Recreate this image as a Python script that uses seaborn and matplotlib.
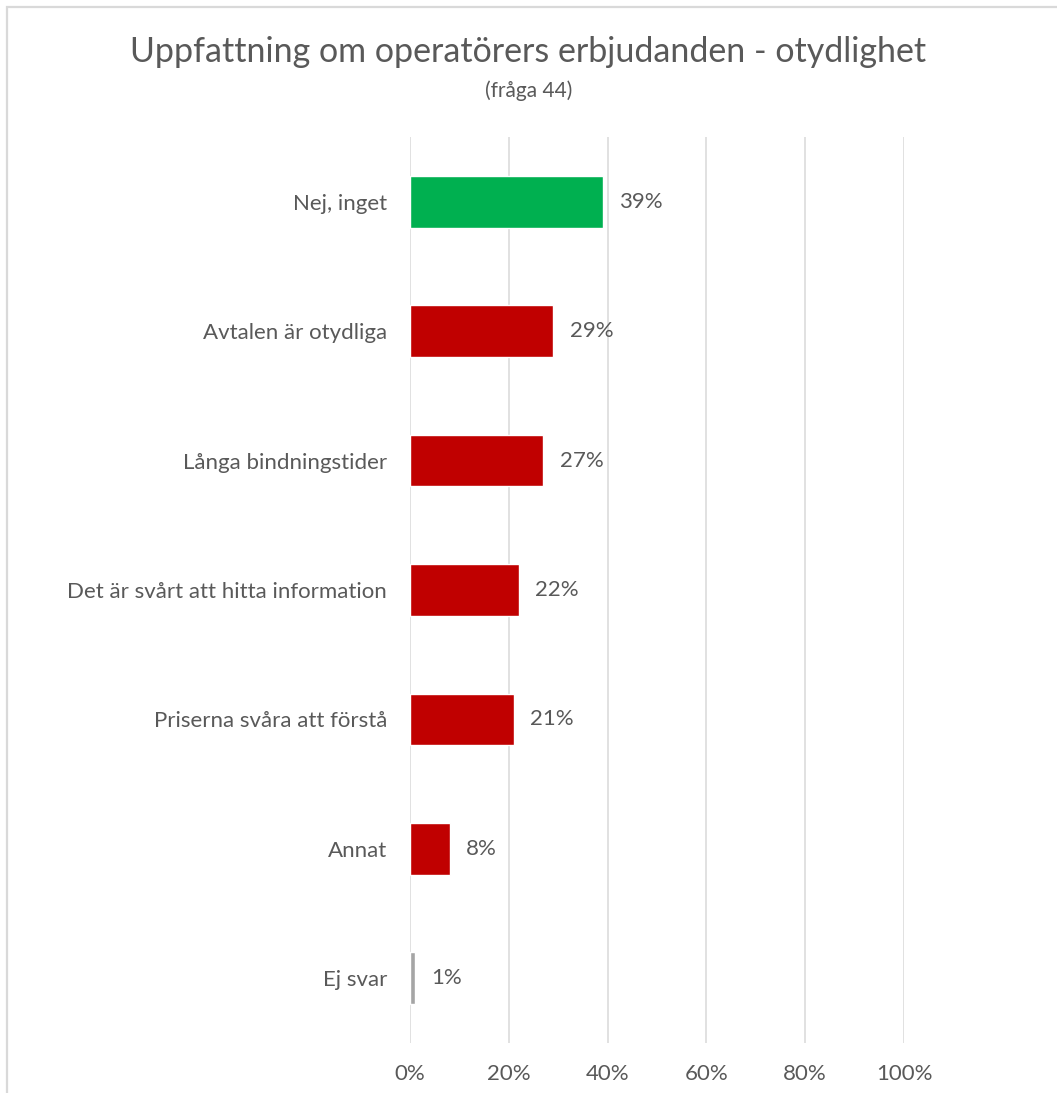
import matplotlib
matplotlib.use("Agg")
import matplotlib.pyplot as plt
import seaborn as sns
import pandas as pd
from matplotlib.patches import Rectangle

categories = [
    "Nej, inget",
    "Avtalen är otydliga",
    "Långa bindningstider",
    "Det är svårt att hitta information",
    "Priserna svåra att förstå",
    "Annat",
    "Ej svar",
]
values = [39, 29, 27, 22, 21, 8, 1]
bar_colors = ["#00B050", "#C00000", "#C00000", "#C00000", "#C00000", "#C00000", "#A5A5A5"]
x_ticks = [0, 20, 40, 60, 80, 100]

sns.set_theme(style="white")
plt.rcParams["font.family"] = ["Lato", "DejaVu Sans"]

text_color = "#595959"
grid_color = "#D9D9D9"

df = pd.DataFrame({"kategori": categories, "andel": values})

fig = plt.figure(figsize=(10.57, 10.93), dpi=100)
W, H = 1057, 1093
ax = fig.add_axes([410 / W, 1 - 1043 / H, (904 - 410) / W, (1043 - 137) / H])

sns.barplot(
    data=df, y="kategori", x="andel", hue="kategori",
    palette=dict(zip(categories, bar_colors)), legend=False,
    orient="h", width=0.4, ax=ax, saturation=1, zorder=3,
)

ax.set_xlim(0, 100)
ax.set_ylim(len(categories) - 0.5, -0.5)
ax.set_xticks(x_ticks)
ax.set_xticklabels([f"{t}%" for t in x_ticks])
ax.xaxis.grid(True, color=grid_color, linewidth=1.1, zorder=0)
ax.yaxis.grid(False)
for s in ax.spines.values():
    s.set_visible(False)
ax.set_xlabel("")
ax.set_ylabel("")
ax.tick_params(axis="x", length=0, pad=15, labelsize=16, labelcolor=text_color)
ax.tick_params(axis="y", length=0, pad=16.5, labelsize=16, labelcolor=text_color)

for i, v in enumerate(values):
    ax.annotate(f"{v}%", xy=(v, i), xytext=(12, 0), textcoords="offset points",
                ha="left", va="center", fontsize=16, color=text_color)

fig.text(0.5, 1 - 52 / H, "Uppfattning om operatörers erbjudanden - otydlighet",
         ha="center", va="center", fontsize=24.5, color=text_color)
fig.text(0.5, 1 - 91 / H, "(fråga 44)", ha="center", va="center",
         fontsize=15, color=text_color)

# chart frame (left and top edges visible)
fig.add_artist(Rectangle((7 / W, -0.05), 1.2, 1 - 7 / H + 0.05,
                         transform=fig.transFigure, fill=False,
                         edgecolor="#D9D9D9", linewidth=1.6))

fig.savefig("out.png", dpi=100, facecolor="white")
